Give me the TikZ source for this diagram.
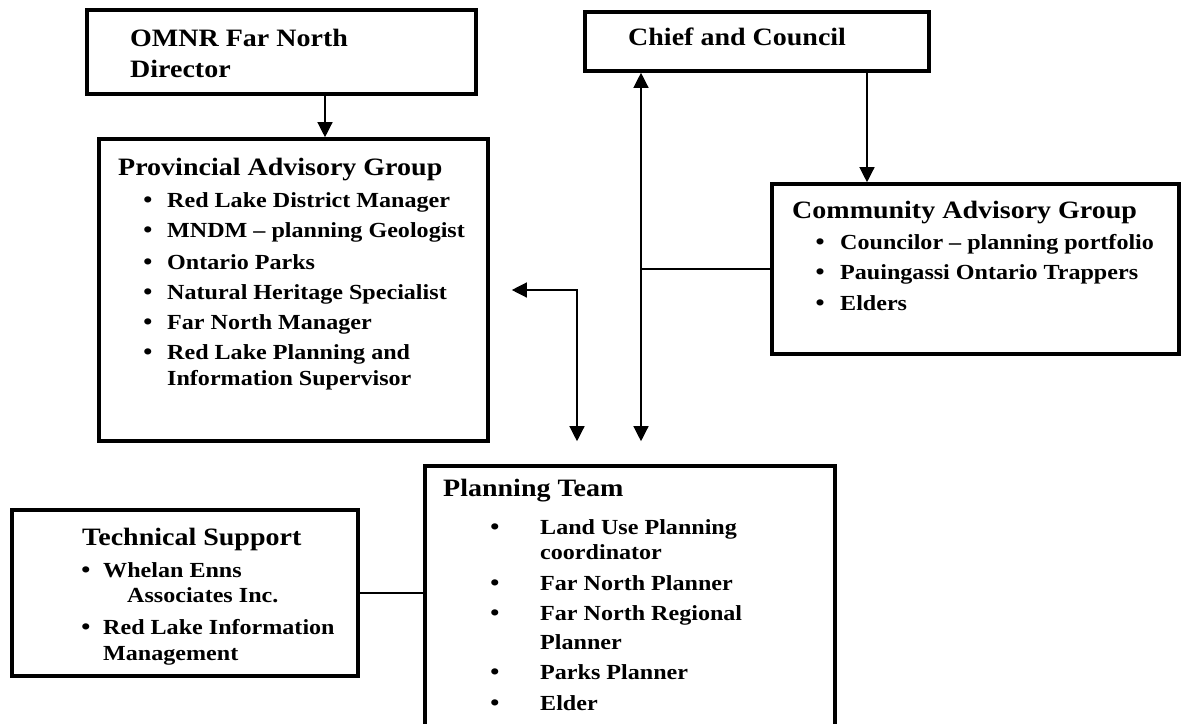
\documentclass[tikz,border=0pt]{standalone}
\usepackage{fontspec}
\setmainfont{Liberation Serif}[FakeStretch=1.12]
\usetikzlibrary{arrows.meta}
\begin{document}
\begin{tikzpicture}[x=1pt,y=-1pt,
  box/.style={draw,line width=3.6pt,inner sep=0pt},
  ttl/.style={inner sep=0pt,anchor=base west,font=\bfseries\fontsize{25}{30}\selectfont},
  itm/.style={inner sep=0pt,anchor=base west,font=\bfseries\fontsize{21.5}{26}\selectfont},
  bul/.style={inner sep=0pt,anchor=base,font=\bfseries\fontsize{23}{26}\selectfont},
  conn/.style={line width=1.3pt},
  arr/.style={conn,-{Triangle[length=15pt,width=15pt]}},
  darr/.style={conn,{Triangle[length=15pt,width=15pt]}-{Triangle[length=15pt,width=15pt]}}]
\newcommand\Tl[4]{\node[ttl] (#1) at (#2,#3+8) {#4};}
\newcommand\It[4]{\node[itm] (#1) at (#2,#3+7) {#4};}
\newcommand\Bu[3]{\node[bul] (#1) at (#2,#3+7) {\textbullet};}
\useasboundingbox (0,0) rectangle (1183,723);
\clip (0,0) rectangle (1183,723);
\fill[white] (0,0) rectangle (1183,723);
% boxes
\node[box,minimum width=389pt,minimum height=84pt] (omnr) at (281.5,52) {};
\node[box,minimum width=389pt,minimum height=302pt] (pag) at (293.5,290) {};
\node[box,minimum width=344pt,minimum height=59pt] (chief) at (757,41.5) {};
\node[box,minimum width=407pt,minimum height=170pt] (cag) at (975.5,269) {};
\node[box,minimum width=410pt,minimum height=322pt] (pt) at (630,627) {};
\node[box,minimum width=346pt,minimum height=166pt] (ts) at (185,593) {};
% texts
\Tl{t1}{130}{38}{OMNR Far North}
\Tl{t2}{130}{69}{Director}
\Tl{t3}{628}{37}{Chief and Council}
\Tl{t4}{118}{167}{Provincial Advisory Group}
\Bu{b41}{148}{200}\It{i41}{167}{200}{Red Lake District Manager}
\Bu{b42}{148}{230}\It{i42}{167}{230}{MNDM – planning Geologist}
\Bu{b43}{148}{262}\It{i43}{167}{262}{Ontario Parks}
\Bu{b44}{148}{292}\It{i44}{167}{292}{Natural Heritage Specialist}
\Bu{b45}{148}{322}\It{i45}{167}{322}{Far North Manager}
\Bu{b46}{148}{352}\It{i46}{167}{352}{Red Lake Planning and}
\It{i47}{167}{378}{Information Supervisor}
\Tl{t5}{792}{210}{Community Advisory Group}
\Bu{b51}{820}{242}\It{i51}{840}{242}{Councilor – planning portfolio}
\Bu{b52}{820}{272}\It{i52}{840}{272}{Pauingassi Ontario Trappers}
\Bu{b53}{820}{303}\It{i53}{840}{303}{Elders}
\Tl{t6}{443}{488}{Planning Team}
\Bu{b61}{495}{527}\It{i61}{540}{527}{Land Use Planning}
\It{i62}{540}{552}{coordinator}
\Bu{b63}{495}{583}\It{i63}{540}{583}{Far North Planner}
\Bu{b64}{495}{613}\It{i64}{540}{613}{Far North Regional}
\It{i65}{540}{642}{Planner}
\Bu{b66}{495}{672}\It{i66}{540}{672}{Parks Planner}
\Bu{b67}{495}{703}\It{i67}{540}{703}{Elder}
\Tl{t7}{82}{537}{Technical Support}
\Bu{b71}{86}{570}\It{i71}{103}{570}{Whelan Enns}
\It{i72}{127}{595}{Associates Inc.}
\Bu{b73}{86}{627}\It{i73}{103}{627}{Red Lake Information}
\It{i74}{103}{653}{Management}
% connectors
\coordinate (xA) at (325,0);
\coordinate (xB) at (641,0);
\coordinate (xC) at (867,0);
\coordinate (xD) at (577,0);
\coordinate (ptTop) at ([yshift=23pt]pt.north);
\coordinate (pagR) at ([xshift=22pt]pag.east);
\draw[arr] (omnr.south -| xA) -- (pag.north -| xA);
\draw[darr] (chief.south -| xB) -- (ptTop -| xB);
\draw[arr] (chief.south -| xC) -- (cag.north -| xC);
\draw[conn] (cag.west) -- (cag.west -| xB);
\draw[darr] (pagR) -| (ptTop -| xD);
\draw[conn] (ts.east) -- (ts.east -| pt.west);
\end{tikzpicture}
\end{document}
